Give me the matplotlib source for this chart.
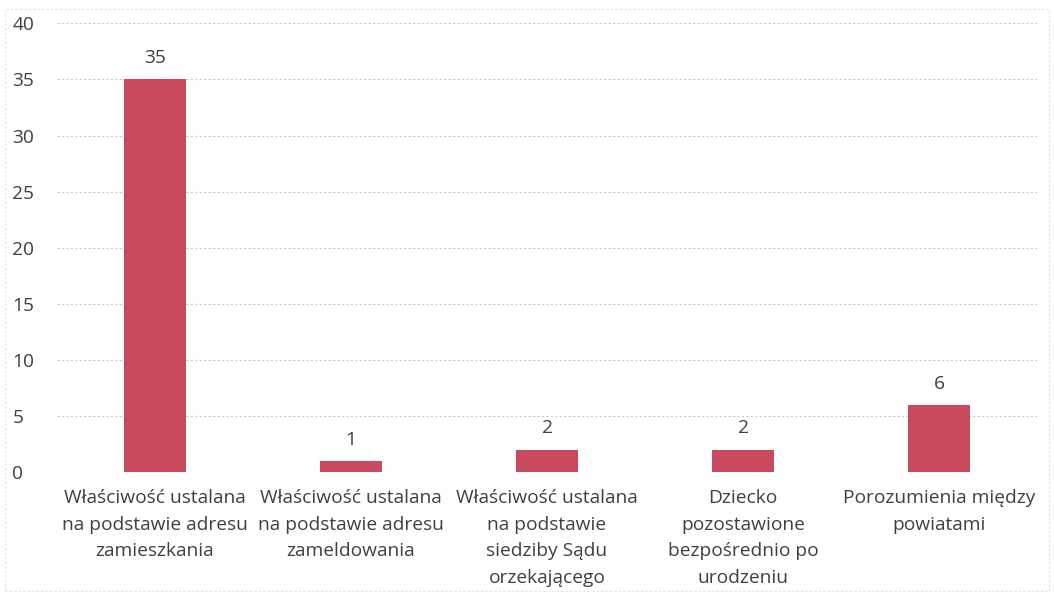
import matplotlib
matplotlib.use("Agg")
import matplotlib.pyplot as plt

categories = [
    "Właściwość ustalana\nna podstawie adresu\nzamieszkania",
    "Właściwość ustalana\nna podstawie adresu\nzameldowania",
    "Właściwość ustalana\nna podstawie\nsiedziby Sądu\norzekającego",
    "Dziecko\npozostawione\nbezpośrednio po\nurodzeniu",
    "Porozumienia między\npowiatami",
]
values = [35, 1, 2, 2, 6]
yticks = [0, 5, 10, 15, 20, 25, 30, 35, 40]

plt.rcParams['font.family'] = ['Open Sans', 'DejaVu Sans']
text_color = '#404040'
bar_color = '#C84A5C'
fs = 13.8

fig = plt.figure(figsize=(10.54, 5.97), dpi=100)
ax = fig.add_axes([0.054, 0.209, 0.930, 0.752])

x = list(range(len(values)))
bars = ax.bar(x, values, width=0.32, color=bar_color, zorder=3)
for xi, v in zip(x, values):
    ax.text(xi, v + 1.1, str(v), ha='center', va='bottom', fontsize=fs, color=text_color)

ax.set_xlim(-0.5, len(values) - 0.5)
ax.set_ylim(0, 40)
ax.set_yticks(yticks)
ax.set_xticks(x)
ax.set_xticklabels(categories, fontsize=fs, color=text_color, linespacing=1.62)
ax.tick_params(axis='y', labelsize=fs, labelcolor=text_color, length=0, pad=6)
ax.tick_params(axis='x', length=0, pad=12)
for lbl in ax.get_yticklabels():
    lbl.set_horizontalalignment('left')
    lbl.set_x(-0.037)
ax.yaxis.grid(True, color='#c8c8c8', linestyle=(0, (2, 2)), linewidth=0.8, zorder=0)
for s in ax.spines.values():
    s.set_visible(False)

# faint outer chart border
fig.patches.append(plt.Rectangle((0.005, 0.01), 0.99, 0.975, transform=fig.transFigure,
                                 fill=False, edgecolor='#e2e2e2', linestyle=(0, (2, 2)), linewidth=0.8))

fig.savefig('out.png', dpi=100)
